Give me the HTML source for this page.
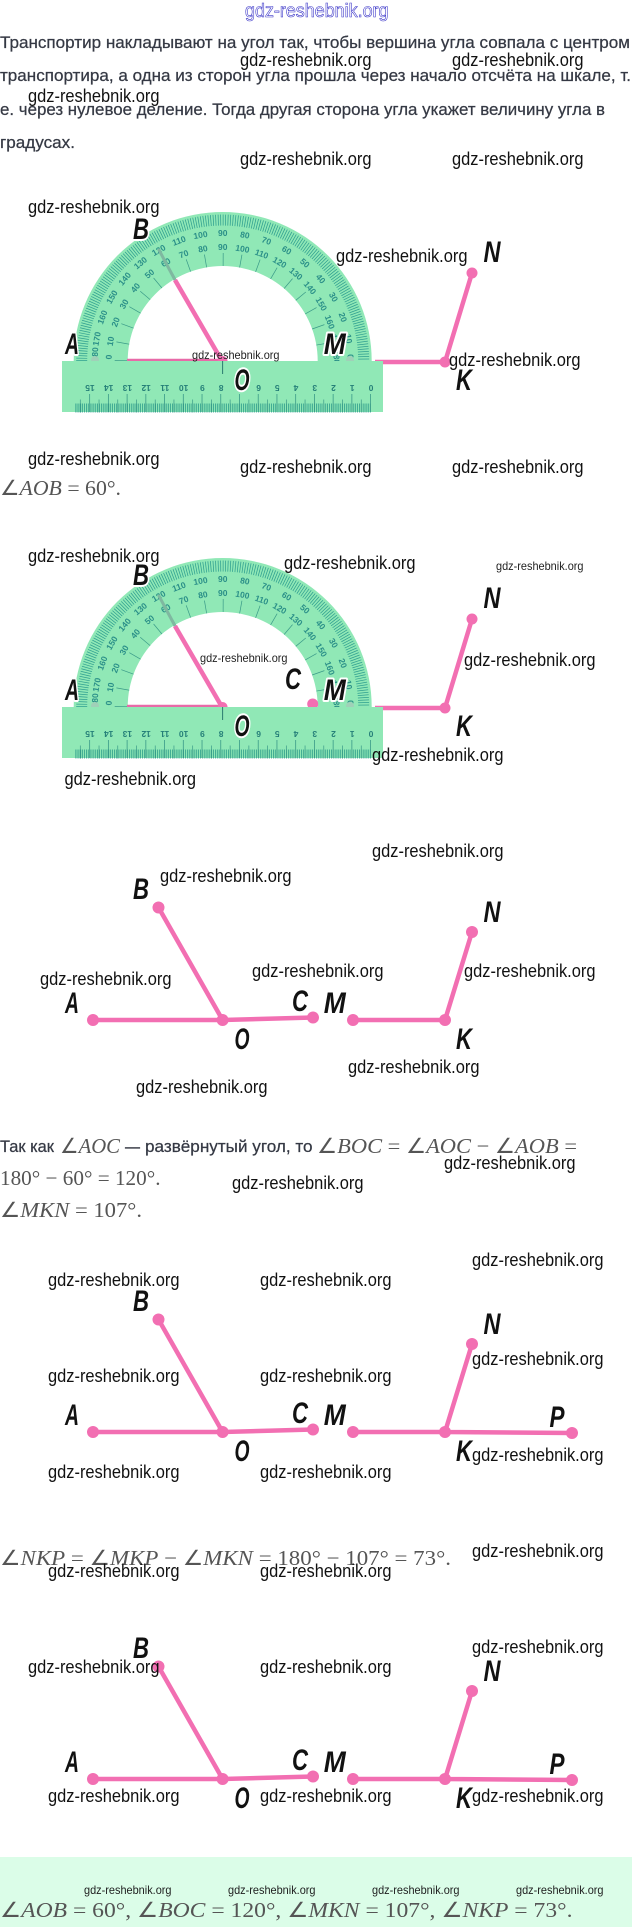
<!DOCTYPE html>
<html><head><meta charset="utf-8"><style>
html,body{margin:0;padding:0;background:#fff}
svg{display:block}
.t{font:17px "Liberation Sans",sans-serif;fill:#353944;stroke:#353944;stroke-width:.25px}
.m{font:21px "Liberation Serif",serif;fill:#555}
.m tspan{font-style:italic}
.w{font:18px "Liberation Sans",sans-serif;fill:#111}
.s{font:12px "Liberation Sans",sans-serif;fill:#222}
.l{font:italic bold 30px "Liberation Sans",sans-serif;fill:#111;text-anchor:middle;stroke:#fff;stroke-width:4px;paint-order:stroke;stroke-linejoin:round}
.n{font:bold 8.5px "Liberation Sans",sans-serif;fill:#2a8f88;text-anchor:middle}
.r{font:bold 8.5px "Liberation Sans",sans-serif;fill:#257f78;text-anchor:middle}
.p{stroke:#f26fb2;stroke-width:4.5;fill:none}
.d{fill:#f26fb2}
</style></head><body>
<svg width="632" height="1927" viewBox="0 0 632 1927" xmlns="http://www.w3.org/2000/svg">
<rect width="632" height="1927" fill="#fff"/>
<rect y="1857" width="632" height="70" fill="#dbfde8"/>

<text x="245" y="17" textLength="143.5" lengthAdjust="spacingAndGlyphs" style="font:19px 'Liberation Sans',sans-serif;fill:#fff;stroke:#3a35c8;stroke-width:.6px">gdz-reshebnik.org</text>
<text class="t" x="0" y="48" textLength="630" lengthAdjust="spacingAndGlyphs">Транспортир накладывают на угол так, чтобы вершина угла совпала с центром</text>
<text class="t" x="0" y="81" textLength="631" lengthAdjust="spacingAndGlyphs">транспортира, а одна из сторон угла прошла через начало отсчёта на шкале, т.</text>
<text class="t" x="0" y="115" textLength="605" lengthAdjust="spacingAndGlyphs">е. через нулевое деление. Тогда другая сторона угла укажет величину угла в</text>
<text class="t" x="0" y="148" textLength="75" lengthAdjust="spacingAndGlyphs">градусах.</text>

<!-- Protractor 1 -->
<g transform="translate(0,361)">
<path d="M375 1H445L472 -88" class="p"/>
<circle class="d" cx="445" cy="1" r="5.5"/><circle class="d" cx="472" cy="-88" r="5.5"/>
<g transform="translate(222.7,0)">
<path d="M-149 0A149 149 0 0 1 149 0H95A95 95 0 0 0 -95 0Z" fill="#90e8b6"/>
<path d="M-141 0A141 141 0 0 1 141 0" fill="none" stroke="#2f9f90" stroke-width="11" stroke-dasharray=".75 1.71"/>
<path d="M-101.5 0A101.5 101.5 0 0 1 101.5 0" fill="none" stroke="#3a9a88" stroke-width="13" stroke-dasharray=".7 17.02"/>
<g>
<text class="n" transform="rotate(-80) translate(0,-125)">170</text><text class="n" transform="rotate(-70) translate(0,-125)">160</text><text class="n" transform="rotate(-60) translate(0,-125)">150</text><text class="n" transform="rotate(-50) translate(0,-125)">140</text><text class="n" transform="rotate(-40) translate(0,-125)">130</text><text class="n" transform="rotate(-30) translate(0,-125)">120</text><text class="n" transform="rotate(-20) translate(0,-125)">110</text><text class="n" transform="rotate(-10) translate(0,-125)">100</text><text class="n" transform="translate(0,-125)">90</text><text class="n" transform="rotate(10) translate(0,-125)">80</text><text class="n" transform="rotate(20) translate(0,-125)">70</text><text class="n" transform="rotate(30) translate(0,-125)">60</text><text class="n" transform="rotate(40) translate(0,-125)">50</text><text class="n" transform="rotate(50) translate(0,-125)">40</text><text class="n" transform="rotate(60) translate(0,-125)">30</text><text class="n" transform="rotate(70) translate(0,-125)">20</text><text class="n" transform="rotate(80) translate(0,-125)">10</text>
<text class="n" transform="rotate(-80) translate(0,-111)">10</text><text class="n" transform="rotate(-70) translate(0,-111)">20</text><text class="n" transform="rotate(-60) translate(0,-111)">30</text><text class="n" transform="rotate(-50) translate(0,-111)">40</text><text class="n" transform="rotate(-40) translate(0,-111)">50</text><text class="n" transform="rotate(-30) translate(0,-111)">60</text><text class="n" transform="rotate(-20) translate(0,-111)">70</text><text class="n" transform="rotate(-10) translate(0,-111)">80</text><text class="n" transform="translate(0,-111)">90</text><text class="n" transform="rotate(10) translate(0,-111)">100</text><text class="n" transform="rotate(20) translate(0,-111)">110</text><text class="n" transform="rotate(30) translate(0,-111)">120</text><text class="n" transform="rotate(40) translate(0,-111)">130</text><text class="n" transform="rotate(50) translate(0,-111)">140</text><text class="n" transform="rotate(60) translate(0,-111)">150</text><text class="n" transform="rotate(70) translate(0,-111)">160</text><text class="n" transform="rotate(80) translate(0,-111)">170</text>
<text class="n" transform="rotate(-87) translate(0,-125)">180</text><text class="n" transform="rotate(88) translate(0,-125)">0</text><text class="n" transform="rotate(-88) translate(0,-111)">0</text><text class="n" transform="rotate(88) translate(0,-111)">180</text>
</g>
</g>
<circle cx="95" cy="-1" r="4" fill="#a0d0b8"/><circle cx="350" cy="-1" r="4" fill="#a0d0b8"/>
<path d="M127 -1H222" stroke="#e86aa8" stroke-width="2.5" fill="none"/>
<path d="M175 -81L158.5 -112" stroke="#7fb8a0" stroke-width="3" fill="none"/>
<path d="M175 -81L222 0" class="p"/>
<circle class="d" cx="222.6" cy="0" r="5"/>
<rect x="62" y="0" width="321" height="51" fill="#90e8b6"/>
<path d="M222.6 0V13" stroke="#2a7a70" stroke-width="1"/>
<path d="M371 47H75" stroke="#2a9a8a" stroke-width="9" stroke-dasharray=".75 1.12"/>
<path d="M371 42H75" stroke="#3a9a88" stroke-width="18" stroke-dasharray=".8 17.93"/>
<path d="M361.6 45H75" stroke="#3a9a88" stroke-width="13" stroke-dasharray=".7 18.03"/>
<g>
<text class="r" transform="translate(371,24) rotate(180)">0</text><text class="r" transform="translate(352.3,24) rotate(180)">1</text><text class="r" transform="translate(333.5,24) rotate(180)">2</text><text class="r" transform="translate(314.8,24) rotate(180)">3</text><text class="r" transform="translate(296,24) rotate(180)">4</text><text class="r" transform="translate(277.3,24) rotate(180)">5</text><text class="r" transform="translate(258.6,24) rotate(180)">6</text><text class="r" transform="translate(221.1,24) rotate(180)">8</text><text class="r" transform="translate(202.4,24) rotate(180)">9</text><text class="r" transform="translate(183.6,24) rotate(180)">10</text><text class="r" transform="translate(164.9,24) rotate(180)">11</text><text class="r" transform="translate(146.2,24) rotate(180)">12</text><text class="r" transform="translate(127.4,24) rotate(180)">13</text><text class="r" transform="translate(108.7,24) rotate(180)">14</text><text class="r" transform="translate(90,24) rotate(180)">15</text>
</g>
<text class="l" x="72" y="-7" textLength="14" lengthAdjust="spacingAndGlyphs">A</text>
<text class="l" x="141" y="-122" textLength="16" lengthAdjust="spacingAndGlyphs">B</text>
<text class="l" x="334.7" y="-7" textLength="22" lengthAdjust="spacingAndGlyphs">M</text>
<text class="l" x="492" y="-99" textLength="17" lengthAdjust="spacingAndGlyphs">N</text>
<text class="l" x="242" y="29" textLength="15" lengthAdjust="spacingAndGlyphs">O</text>
<text class="l" x="464" y="29" textLength="16" lengthAdjust="spacingAndGlyphs">K</text>
</g>

<!-- Protractor 2 -->
<g transform="translate(0,707)">
<path d="M375 1H445L472 -88" class="p"/>
<circle class="d" cx="445" cy="1" r="5.5"/><circle class="d" cx="472" cy="-88" r="5.5"/>
<g transform="translate(222.7,0)">
<path d="M-149 0A149 149 0 0 1 149 0H95A95 95 0 0 0 -95 0Z" fill="#90e8b6"/>
<path d="M-141 0A141 141 0 0 1 141 0" fill="none" stroke="#2f9f90" stroke-width="11" stroke-dasharray=".75 1.71"/>
<path d="M-101.5 0A101.5 101.5 0 0 1 101.5 0" fill="none" stroke="#3a9a88" stroke-width="13" stroke-dasharray=".7 17.02"/>
<g>
<text class="n" transform="rotate(-80) translate(0,-125)">170</text><text class="n" transform="rotate(-70) translate(0,-125)">160</text><text class="n" transform="rotate(-60) translate(0,-125)">150</text><text class="n" transform="rotate(-50) translate(0,-125)">140</text><text class="n" transform="rotate(-40) translate(0,-125)">130</text><text class="n" transform="rotate(-30) translate(0,-125)">120</text><text class="n" transform="rotate(-20) translate(0,-125)">110</text><text class="n" transform="rotate(-10) translate(0,-125)">100</text><text class="n" transform="translate(0,-125)">90</text><text class="n" transform="rotate(10) translate(0,-125)">80</text><text class="n" transform="rotate(20) translate(0,-125)">70</text><text class="n" transform="rotate(30) translate(0,-125)">60</text><text class="n" transform="rotate(40) translate(0,-125)">50</text><text class="n" transform="rotate(50) translate(0,-125)">40</text><text class="n" transform="rotate(60) translate(0,-125)">30</text><text class="n" transform="rotate(70) translate(0,-125)">20</text><text class="n" transform="rotate(80) translate(0,-125)">10</text>
<text class="n" transform="rotate(-80) translate(0,-111)">10</text><text class="n" transform="rotate(-70) translate(0,-111)">20</text><text class="n" transform="rotate(-60) translate(0,-111)">30</text><text class="n" transform="rotate(-50) translate(0,-111)">40</text><text class="n" transform="rotate(-40) translate(0,-111)">50</text><text class="n" transform="rotate(-30) translate(0,-111)">60</text><text class="n" transform="rotate(-20) translate(0,-111)">70</text><text class="n" transform="rotate(-10) translate(0,-111)">80</text><text class="n" transform="translate(0,-111)">90</text><text class="n" transform="rotate(10) translate(0,-111)">100</text><text class="n" transform="rotate(20) translate(0,-111)">110</text><text class="n" transform="rotate(30) translate(0,-111)">120</text><text class="n" transform="rotate(40) translate(0,-111)">130</text><text class="n" transform="rotate(50) translate(0,-111)">140</text><text class="n" transform="rotate(60) translate(0,-111)">150</text><text class="n" transform="rotate(70) translate(0,-111)">160</text><text class="n" transform="rotate(80) translate(0,-111)">170</text>
<text class="n" transform="rotate(-87) translate(0,-125)">180</text><text class="n" transform="rotate(88) translate(0,-125)">0</text><text class="n" transform="rotate(-88) translate(0,-111)">0</text><text class="n" transform="rotate(88) translate(0,-111)">180</text>
</g>
</g>
<circle cx="95" cy="-1" r="4" fill="#a0d0b8"/><circle cx="350" cy="-1" r="4" fill="#a0d0b8"/>
<path d="M127 -1H222" stroke="#e86aa8" stroke-width="2.5" fill="none"/>
<path d="M175 -81L158.5 -112" stroke="#7fb8a0" stroke-width="3" fill="none"/>
<path d="M175 -81L222 0" class="p"/>
<circle class="d" cx="222.6" cy="0" r="5"/>
<circle class="d" cx="312.7" cy="-3" r="5.5"/>
<rect x="62" y="0" width="321" height="51" fill="#90e8b6"/>
<path d="M222.6 0V13" stroke="#2a7a70" stroke-width="1"/>
<path d="M371 47H75" stroke="#2a9a8a" stroke-width="9" stroke-dasharray=".75 1.12"/>
<path d="M371 42H75" stroke="#3a9a88" stroke-width="18" stroke-dasharray=".8 17.93"/>
<path d="M361.6 45H75" stroke="#3a9a88" stroke-width="13" stroke-dasharray=".7 18.03"/>
<g>
<text class="r" transform="translate(371,24) rotate(180)">0</text><text class="r" transform="translate(352.3,24) rotate(180)">1</text><text class="r" transform="translate(333.5,24) rotate(180)">2</text><text class="r" transform="translate(314.8,24) rotate(180)">3</text><text class="r" transform="translate(296,24) rotate(180)">4</text><text class="r" transform="translate(277.3,24) rotate(180)">5</text><text class="r" transform="translate(258.6,24) rotate(180)">6</text><text class="r" transform="translate(221.1,24) rotate(180)">8</text><text class="r" transform="translate(202.4,24) rotate(180)">9</text><text class="r" transform="translate(183.6,24) rotate(180)">10</text><text class="r" transform="translate(164.9,24) rotate(180)">11</text><text class="r" transform="translate(146.2,24) rotate(180)">12</text><text class="r" transform="translate(127.4,24) rotate(180)">13</text><text class="r" transform="translate(108.7,24) rotate(180)">14</text><text class="r" transform="translate(90,24) rotate(180)">15</text>
</g>
<text class="l" x="72" y="-7" textLength="14" lengthAdjust="spacingAndGlyphs">A</text>
<text class="l" x="141" y="-122" textLength="16" lengthAdjust="spacingAndGlyphs">B</text>
<text class="l" x="293" y="-18" textLength="16" lengthAdjust="spacingAndGlyphs">C</text>
<text class="l" x="334.7" y="-7" textLength="22" lengthAdjust="spacingAndGlyphs">M</text>
<text class="l" x="492" y="-99" textLength="17" lengthAdjust="spacingAndGlyphs">N</text>
<text class="l" x="242" y="29" textLength="15" lengthAdjust="spacingAndGlyphs">O</text>
<text class="l" x="464" y="29" textLength="16" lengthAdjust="spacingAndGlyphs">K</text>
</g>

<!-- Diagram 3 -->
<g transform="translate(0,1020)">
<path class="p" d="M93 0H222.6L313 -2.5M158.5 -112.5L222.6 0M353 0H445L472 -88"/>
<circle class="d" cx="93" cy="0" r="6"/><circle class="d" cx="222.6" cy="0" r="6"/><circle class="d" cx="313" cy="-2.5" r="6"/><circle class="d" cx="158.5" cy="-112.5" r="6"/><circle class="d" cx="353" cy="0" r="6"/><circle class="d" cx="445" cy="0" r="6"/><circle class="d" cx="472" cy="-88" r="6"/>
<text class="l" x="72" y="-7" textLength="14" lengthAdjust="spacingAndGlyphs">A</text>
<text class="l" x="141" y="-121" textLength="16" lengthAdjust="spacingAndGlyphs">B</text>
<text class="l" x="300" y="-9" textLength="16" lengthAdjust="spacingAndGlyphs">C</text>
<text class="l" x="334.7" y="-7" textLength="22" lengthAdjust="spacingAndGlyphs">M</text>
<text class="l" x="492" y="-98" textLength="17" lengthAdjust="spacingAndGlyphs">N</text>
<text class="l" x="242" y="29" textLength="15" lengthAdjust="spacingAndGlyphs">O</text>
<text class="l" x="464" y="29" textLength="16" lengthAdjust="spacingAndGlyphs">K</text>
</g>

<!-- Diagram 4 -->
<g transform="translate(0,1432)">
<path class="p" d="M93 0H222.6L313 -2.5M158.5 -112.5L222.6 0M353 0H445L472 -88M445 0L572 1"/>
<circle class="d" cx="93" cy="0" r="6"/><circle class="d" cx="222.6" cy="0" r="6"/><circle class="d" cx="313" cy="-2.5" r="6"/><circle class="d" cx="158.5" cy="-112.5" r="6"/><circle class="d" cx="353" cy="0" r="6"/><circle class="d" cx="445" cy="0" r="6"/><circle class="d" cx="472" cy="-88" r="6"/><circle class="d" cx="572" cy="1" r="6"/>
<text class="l" x="72" y="-7" textLength="14" lengthAdjust="spacingAndGlyphs">A</text>
<text class="l" x="141" y="-121" textLength="16" lengthAdjust="spacingAndGlyphs">B</text>
<text class="l" x="300" y="-9" textLength="16" lengthAdjust="spacingAndGlyphs">C</text>
<text class="l" x="334.7" y="-7" textLength="22" lengthAdjust="spacingAndGlyphs">M</text>
<text class="l" x="492" y="-98" textLength="17" lengthAdjust="spacingAndGlyphs">N</text>
<text class="l" x="557" y="-5" textLength="15" lengthAdjust="spacingAndGlyphs">P</text>
<text class="l" x="242" y="29" textLength="15" lengthAdjust="spacingAndGlyphs">O</text>
<text class="l" x="464" y="29" textLength="16" lengthAdjust="spacingAndGlyphs">K</text>
</g>

<!-- Diagram 5 -->
<g transform="translate(0,1779)">
<path class="p" d="M93 0H222.6L313 -2.5M158.5 -112.5L222.6 0M353 0H445L472 -88M445 0L572 1"/>
<circle class="d" cx="93" cy="0" r="6"/><circle class="d" cx="222.6" cy="0" r="6"/><circle class="d" cx="313" cy="-2.5" r="6"/><circle class="d" cx="158.5" cy="-112.5" r="6"/><circle class="d" cx="353" cy="0" r="6"/><circle class="d" cx="445" cy="0" r="6"/><circle class="d" cx="472" cy="-88" r="6"/><circle class="d" cx="572" cy="1" r="6"/>
<text class="l" x="72" y="-7" textLength="14" lengthAdjust="spacingAndGlyphs">A</text>
<text class="l" x="141" y="-121" textLength="16" lengthAdjust="spacingAndGlyphs">B</text>
<text class="l" x="300" y="-9" textLength="16" lengthAdjust="spacingAndGlyphs">C</text>
<text class="l" x="334.7" y="-7" textLength="22" lengthAdjust="spacingAndGlyphs">M</text>
<text class="l" x="492" y="-98" textLength="17" lengthAdjust="spacingAndGlyphs">N</text>
<text class="l" x="557" y="-5" textLength="15" lengthAdjust="spacingAndGlyphs">P</text>
<text class="l" x="242" y="29" textLength="15" lengthAdjust="spacingAndGlyphs">O</text>
<text class="l" x="464" y="29" textLength="16" lengthAdjust="spacingAndGlyphs">K</text>
</g>

<!-- Math -->
<text class="m" x="0" y="495" textLength="121" lengthAdjust="spacingAndGlyphs">∠<tspan>AOB</tspan> = 60°.</text>
<text class="t" x="0" y="1152" textLength="54" lengthAdjust="spacingAndGlyphs">Так как</text>
<text class="m" x="60" y="1153" textLength="60" lengthAdjust="spacingAndGlyphs">∠<tspan>AOC</tspan></text>
<text class="t" x="125" y="1152" textLength="15" lengthAdjust="spacingAndGlyphs">—</text>
<text class="t" x="145" y="1152" textLength="167.5" lengthAdjust="spacingAndGlyphs">развёрнутый угол, то</text>
<text class="m" x="317" y="1153" textLength="260" lengthAdjust="spacingAndGlyphs">∠<tspan>BOC</tspan> = ∠<tspan>AOC</tspan> − ∠<tspan>AOB</tspan> =</text>
<text class="m" x="0" y="1185" textLength="160.5" lengthAdjust="spacingAndGlyphs">180° − 60° = 120°.</text>
<text class="m" x="0" y="1217" textLength="142" lengthAdjust="spacingAndGlyphs">∠<tspan>MKN</tspan> = 107°.</text>
<text class="m" x="0" y="1565" textLength="451" lengthAdjust="spacingAndGlyphs">∠<tspan>NKP</tspan> = ∠<tspan>MKP</tspan> − ∠<tspan>MKN</tspan> = 180° − 107° = 73°.</text>
<text class="m" x="0" y="1917" textLength="572.5" lengthAdjust="spacingAndGlyphs">∠<tspan>AOB</tspan> = 60°, ∠<tspan>BOC</tspan> = 120°, ∠<tspan>MKN</tspan> = 107°, ∠<tspan>NKP</tspan> = 73°.</text>

<!-- Watermarks -->
<g>
<text class="w" x="240" y="66" textLength="131.5" lengthAdjust="spacingAndGlyphs">gdz-reshebnik.org</text>
<text class="w" x="452" y="66" textLength="131.5" lengthAdjust="spacingAndGlyphs">gdz-reshebnik.org</text>
<text class="w" x="28" y="102" textLength="131.5" lengthAdjust="spacingAndGlyphs">gdz-reshebnik.org</text>
<text class="w" x="240" y="165" textLength="131.5" lengthAdjust="spacingAndGlyphs">gdz-reshebnik.org</text>
<text class="w" x="452" y="165" textLength="131.5" lengthAdjust="spacingAndGlyphs">gdz-reshebnik.org</text>
<text class="w" x="28" y="213" textLength="131.5" lengthAdjust="spacingAndGlyphs">gdz-reshebnik.org</text>
<text class="w" x="336" y="262" textLength="131.5" lengthAdjust="spacingAndGlyphs">gdz-reshebnik.org</text>
<text class="s" x="192" y="359" textLength="87.5" lengthAdjust="spacingAndGlyphs">gdz-reshebnik.org</text>
<text class="w" x="449" y="366" textLength="131.5" lengthAdjust="spacingAndGlyphs">gdz-reshebnik.org</text>
<text class="w" x="28" y="465" textLength="131.5" lengthAdjust="spacingAndGlyphs">gdz-reshebnik.org</text>
<text class="w" x="240" y="473" textLength="131.5" lengthAdjust="spacingAndGlyphs">gdz-reshebnik.org</text>
<text class="w" x="452" y="473" textLength="131.5" lengthAdjust="spacingAndGlyphs">gdz-reshebnik.org</text>
<text class="w" x="28" y="562" textLength="131.5" lengthAdjust="spacingAndGlyphs">gdz-reshebnik.org</text>
<text class="w" x="284" y="569" textLength="131.5" lengthAdjust="spacingAndGlyphs">gdz-reshebnik.org</text>
<text class="s" x="496" y="570" textLength="87.5" lengthAdjust="spacingAndGlyphs">gdz-reshebnik.org</text>
<text class="s" x="200" y="662" textLength="87.5" lengthAdjust="spacingAndGlyphs">gdz-reshebnik.org</text>
<text class="w" x="464" y="666" textLength="131.5" lengthAdjust="spacingAndGlyphs">gdz-reshebnik.org</text>
<text class="w" x="372" y="761" textLength="131.5" lengthAdjust="spacingAndGlyphs">gdz-reshebnik.org</text>
<text class="w" x="64.5" y="785" textLength="131.5" lengthAdjust="spacingAndGlyphs">gdz-reshebnik.org</text>
<text class="w" x="372" y="857" textLength="131.5" lengthAdjust="spacingAndGlyphs">gdz-reshebnik.org</text>
<text class="w" x="160" y="882" textLength="131.5" lengthAdjust="spacingAndGlyphs">gdz-reshebnik.org</text>
<text class="w" x="40" y="985" textLength="131.5" lengthAdjust="spacingAndGlyphs">gdz-reshebnik.org</text>
<text class="w" x="252" y="977" textLength="131.5" lengthAdjust="spacingAndGlyphs">gdz-reshebnik.org</text>
<text class="w" x="464" y="977" textLength="131.5" lengthAdjust="spacingAndGlyphs">gdz-reshebnik.org</text>
<text class="w" x="348" y="1073" textLength="131.5" lengthAdjust="spacingAndGlyphs">gdz-reshebnik.org</text>
<text class="w" x="136" y="1093" textLength="131.5" lengthAdjust="spacingAndGlyphs">gdz-reshebnik.org</text>
<text class="w" x="444" y="1169" textLength="131.5" lengthAdjust="spacingAndGlyphs">gdz-reshebnik.org</text>
<text class="w" x="232" y="1189" textLength="131.5" lengthAdjust="spacingAndGlyphs">gdz-reshebnik.org</text>
<text class="w" x="472" y="1266" textLength="131.5" lengthAdjust="spacingAndGlyphs">gdz-reshebnik.org</text>
<text class="w" x="48" y="1286" textLength="131.5" lengthAdjust="spacingAndGlyphs">gdz-reshebnik.org</text>
<text class="w" x="260" y="1286" textLength="131.5" lengthAdjust="spacingAndGlyphs">gdz-reshebnik.org</text>
<text class="w" x="472" y="1365" textLength="131.5" lengthAdjust="spacingAndGlyphs">gdz-reshebnik.org</text>
<text class="w" x="48" y="1382" textLength="131.5" lengthAdjust="spacingAndGlyphs">gdz-reshebnik.org</text>
<text class="w" x="260" y="1382" textLength="131.5" lengthAdjust="spacingAndGlyphs">gdz-reshebnik.org</text>
<text class="w" x="472" y="1461" textLength="131.5" lengthAdjust="spacingAndGlyphs">gdz-reshebnik.org</text>
<text class="w" x="48" y="1478" textLength="131.5" lengthAdjust="spacingAndGlyphs">gdz-reshebnik.org</text>
<text class="w" x="260" y="1478" textLength="131.5" lengthAdjust="spacingAndGlyphs">gdz-reshebnik.org</text>
<text class="w" x="472" y="1557" textLength="131.5" lengthAdjust="spacingAndGlyphs">gdz-reshebnik.org</text>
<text class="w" x="48" y="1577" textLength="131.5" lengthAdjust="spacingAndGlyphs">gdz-reshebnik.org</text>
<text class="w" x="260" y="1577" textLength="131.5" lengthAdjust="spacingAndGlyphs">gdz-reshebnik.org</text>
<text class="w" x="472" y="1653" textLength="131.5" lengthAdjust="spacingAndGlyphs">gdz-reshebnik.org</text>
<text class="w" x="28" y="1673" textLength="131.5" lengthAdjust="spacingAndGlyphs">gdz-reshebnik.org</text>
<text class="w" x="260" y="1673" textLength="131.5" lengthAdjust="spacingAndGlyphs">gdz-reshebnik.org</text>
<text class="w" x="48" y="1802" textLength="131.5" lengthAdjust="spacingAndGlyphs">gdz-reshebnik.org</text>
<text class="w" x="260" y="1802" textLength="131.5" lengthAdjust="spacingAndGlyphs">gdz-reshebnik.org</text>
<text class="w" x="472" y="1802" textLength="131.5" lengthAdjust="spacingAndGlyphs">gdz-reshebnik.org</text>
<text class="s" x="84" y="1894" textLength="87.5" lengthAdjust="spacingAndGlyphs">gdz-reshebnik.org</text>
<text class="s" x="228" y="1894" textLength="87.5" lengthAdjust="spacingAndGlyphs">gdz-reshebnik.org</text>
<text class="s" x="372" y="1894" textLength="87.5" lengthAdjust="spacingAndGlyphs">gdz-reshebnik.org</text>
<text class="s" x="516" y="1894" textLength="87.5" lengthAdjust="spacingAndGlyphs">gdz-reshebnik.org</text>
</g>
</svg>
</body></html>
